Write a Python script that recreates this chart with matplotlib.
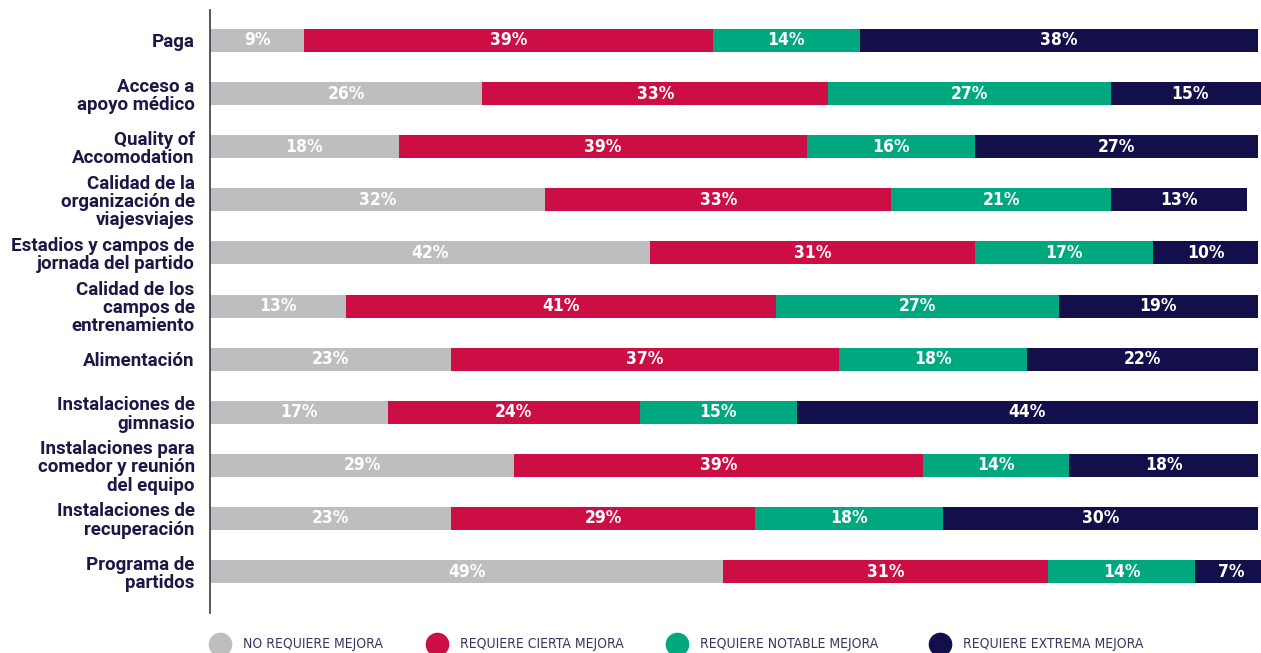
import matplotlib
matplotlib.use("Agg")
import matplotlib.pyplot as plt
from matplotlib.lines import Line2D
import numpy as np

categories = [
    "Paga",
    "Acceso a\napoyo médico",
    "Quality of\nAccomodation",
    "Calidad de la\norganización de\nviajesviajes",
    "Estadios y campos de\njornada del partido",
    "Calidad de los\ncampos de\nentrenamiento",
    "Alimentación",
    "Instalaciones de\ngimnasio",
    "Instalaciones para\ncomedor y reunión\ndel equipo",
    "Instalaciones de\nrecuperación",
    "Programa de\npartidos",
]

no_requiere = [9, 26, 18, 32, 42, 13, 23, 17, 29, 23, 49]
cierta = [39, 33, 39, 33, 31, 41, 37, 24, 39, 29, 31]
notable = [14, 27, 16, 21, 17, 27, 18, 15, 14, 18, 14]
extrema = [38, 15, 27, 13, 10, 19, 22, 44, 18, 30, 7]

series_names = ["NO REQUIERE MEJORA", "REQUIERE CIERTA MEJORA",
                "REQUIERE NOTABLE MEJORA", "REQUIERE EXTREMA MEJORA"]
colors = ["#bdbec0", "#cc0e45", "#00a880", "#130f4a"]
navy = "#1b1846"

fig = plt.figure(figsize=(12.61, 6.53), dpi=100)
ax = fig.add_axes([210 / 1261, 1 - 613 / 653, 1 - 210 / 1261, (613 - 10) / 653])

y = np.arange(len(categories))
left = np.zeros(len(categories))
for vals, col in zip([no_requiere, cierta, notable, extrema], colors):
    vals = np.array(vals, dtype=float)
    ax.barh(y, vals, left=left, height=0.433, color=col, linewidth=0)
    for yi, l, v in zip(y, left, vals):
        ax.text(l + v / 2, yi, f"{v:.0f}%", ha="center", va="center",
                color="white", fontsize=12.5, fontweight="bold",
                family="DejaVu Sans", fontstretch="condensed")
    left += vals

ax.set_xlim(0, 100.3)
ax.set_ylim(10.78, -0.574)
ax.set_yticks(y)
ax.set_yticklabels(categories, fontsize=13.5, fontweight="bold", color=navy,
                   family="Roboto", linespacing=1.02)
ax.tick_params(axis="y", length=0, pad=11)
ax.set_xticks([])
for side in ["top", "right", "bottom"]:
    ax.spines[side].set_visible(False)
ax.spines["left"].set_color("#3a3a4a")
ax.spines["left"].set_linewidth(1.2)

# legend items laid out by hand along the bottom edge
leg_x = [220, 437, 677, 940]
leg_y = 1 - 644 / 653
for px, name, col in zip(leg_x, series_names, colors):
    fig.add_artist(Line2D([px / 1261], [leg_y], transform=fig.transFigure,
                          marker="o", markersize=16, linestyle="none",
                          markerfacecolor=col, markeredgecolor=col))
    fig.text((px + 23) / 1261, leg_y, name, ha="left", va="center",
             fontsize=10, color="#3a3560", family="DejaVu Sans",
             fontstretch="condensed")

fig.savefig("out.png", dpi=100)
